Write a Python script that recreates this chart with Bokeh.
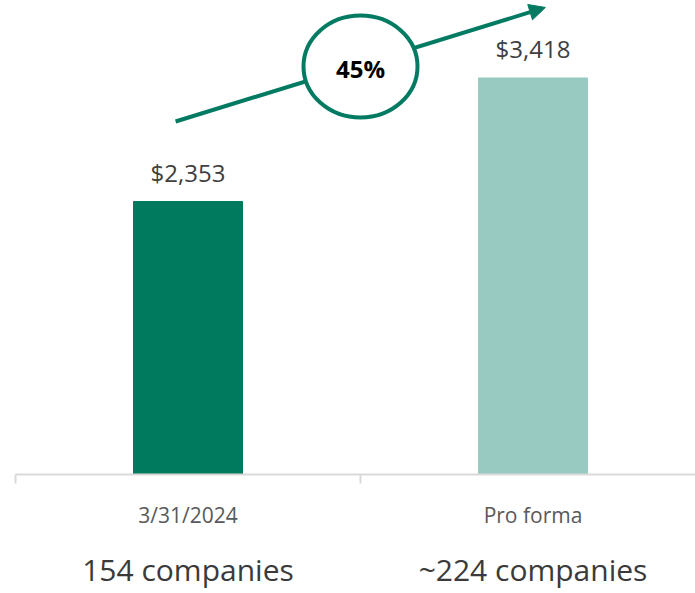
from bokeh.plotting import figure
from bokeh.models import Range1d, FixedTicker, LinearAxis, Arrow, NormalHead
from bokeh.core.properties import value
from bokeh.embed import file_html
from bokeh.resources import INLINE

# ---- data ----
categories = ["3/31/2024", "Pro forma"]
company_counts = ["154 companies", "~224 companies"]
values = [2353, 3418]
value_labels = ["$2,353", "$3,418"]
bar_colors = ["#007A5E", "#99CAC2"]
positions = [0.5, 1.5]
boundaries = [0, 1, 2]
growth_label = ["45%"]

# annotation geometry (data units)
arrow_start = [0.464, 3043]
arrow_end = [1.536, 4026]
badge_center = [1.0, 3517]

GREEN = "#037A62"
FONT = "Open Sans"

p = figure(width=695, height=593,
           x_range=Range1d(0, 680 / 345), y_range=Range1d(0, 4086),
           output_backend="svg", toolbar_location=None,
           x_axis_location=None, y_axis_location=None,
           min_border_left=15, min_border_right=0, min_border_top=0,
           min_border_bottom=119)
p.outline_line_color = None
p.grid.visible = False

p.vbar(x=positions, top=values, width=0.316, color=bar_colors)

p.text(x=positions, y=values, text=value_labels, y_offset=-29,
       text_align="center", text_baseline="middle",
       text_font=value(FONT), text_font_size="24px", text_color="#404040")

arrow = Arrow(end=NormalHead(size=16, fill_color=GREEN, line_color=GREEN),
              x_start=arrow_start[0], y_start=arrow_start[1],
              x_end=arrow_end[0], y_end=arrow_end[1],
              line_color=GREEN, line_width=4)
p.add_layout(arrow)

p.ellipse(x=[badge_center[0]], y=[badge_center[1]], width=114, height=102,
          width_units="screen", height_units="screen",
          fill_color="white", line_color=GREEN, line_width=4, level="overlay")
p.text(x=[badge_center[0]], y=[badge_center[1]], text=growth_label, y_offset=2,
       text_align="center", text_baseline="middle",
       text_font=value(FONT), text_font_size="24px", text_font_style="bold",
       text_color="#000000", level="overlay")

# category axis: baseline, boundary ticks (as minor ticks) and category labels
ax2 = LinearAxis(ticker=FixedTicker(ticks=positions, minor_ticks=boundaries),
                 major_label_overrides=dict(zip(positions, categories)),
                 axis_line_color="#D9D9D9", axis_line_width=2,
                 major_tick_line_color=None, major_tick_out=0, major_tick_in=0,
                 minor_tick_line_color="#D9D9D9", minor_tick_line_width=2,
                 minor_tick_out=9, minor_tick_in=0,
                 major_label_standoff=17,
                 major_label_text_font=FONT, major_label_text_font_size="21px",
                 major_label_text_color="#595959")
p.add_layout(ax2, "below")

# company counts under the category labels
ax3 = LinearAxis(ticker=FixedTicker(ticks=positions),
                 major_label_overrides=dict(zip(positions, company_counts)),
                 axis_line_color=None, major_tick_line_color=None,
                 minor_tick_line_color=None, major_tick_out=0, major_tick_in=0,
                 major_label_standoff=17,
                 major_label_text_font=FONT, major_label_text_font_size="30px",
                 major_label_text_color="#3A3A3A")
p.add_layout(ax3, "below")

open("out.html", "w").write(file_html(p, INLINE))
